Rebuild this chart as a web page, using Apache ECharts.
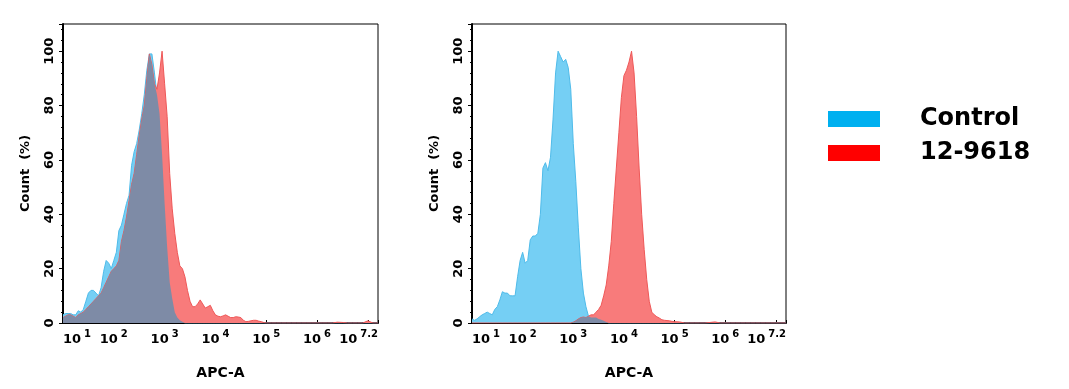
<!DOCTYPE html>
<html>
<head>
<meta charset="utf-8">
<script src="https://cdn.jsdelivr.net/npm/echarts@6/dist/echarts.min.js"></script>
<style>html,body{margin:0;padding:0;background:#fff;}#c{width:1069px;height:389px;}</style>
</head>
<body>
<div id="c"></div>
<script>
// x positions in log10(APC-A)
const xs = [1.00,1.05,1.10,1.15,1.20,1.25,1.30,1.35,1.40,1.45,1.50,1.55,1.60,1.65,1.70,1.75,1.80,1.85,1.90,1.95,
  2.00,2.05,2.10,2.15,2.20,2.25,2.30,2.35,2.40,2.45,2.50,2.55,2.60,2.65,2.70,2.75,2.80,2.85,2.90,2.95,
  3.00,3.05,3.10,3.15,3.20,3.25,3.30,3.35,3.40,3.45,3.50,3.55,3.60,3.65,3.70,3.75,3.80,3.85,3.90,3.95,
  4.00,4.05,4.10,4.15,4.20,4.25,4.30,4.35,4.40,4.45,4.50,4.55,4.60,4.65,4.70,4.75,4.80,4.85,4.90,4.95,5.00,
  5.1,5.2,5.3,5.4,5.5,5.6,5.7,5.8,5.9,6.0,6.1,6.2,6.3,6.4,6.5,6.6,6.7,6.8,6.9,7.0,7.1,7.2];

// Left panel
const controlLeft = [3,3.5,3.5,3.5,3,3,4.5,4,5,8,11,12,12,11,10,13,19,23,22,20,
  23,26,34,36,40,44,47,58,63,66,71,77,84,93,99,99,92,84,77,62,
  44,28,15,9,4,2,1,0.5,0,0,0,0,0,0,0,0,0,0,0,0,
  0,0,0,0,0,0,0,0,0,0,0,0,0,0,0,0,0,0,0,0,0,
  0,0,0,0,0,0,0,0,0,0,0,0,0,0,0,0,0,0,0,0,0,0];
const sampleLeft = [2,2.5,3,3,2.5,2,3,3.5,4,5,6,7,8,9,10,11,13,15,17,19,
  20,21,23,30,34,39,45,51,55,62,69,75,80,90,99,95,88,86,92,100,
  88,76,55,42,33,26,21,20,17,12,8,6,6,7,8.5,7,5.5,6,6.5,4.5,
  3,2.5,2.3,2.6,3,2.5,2,2,2.3,2.2,2,1,0.5,0.6,0.8,1,1,0.7,0.5,0.2,0,
  0,0,0,0,0,0,0,0,0,0,0,0,0,0.3,0.2,0,0,0,0,0.8,0,0];

// Right panel
const controlRight = [1.5,1,1.5,2.3,3,3.5,4,3.5,3,5,6,8.5,11.5,11,11,10,10,10,17,23,
  26,22,23,30.6,32,32,33,40,57,59,56,61,75,92,100,98,96,97,94,86,
  66,52,35,20,11,6,2.5,2,2,2,1.5,1.2,0.8,0.4,0,0,0,0,0,0,
  0,0,0,0,0,0,0,0,0,0,0,0,0,0,0,0,0,0,0,0,0,
  0,0,0,0,0,0,0,0,0,0,0,0,0,0,0,0,0,0,0,0,0,0];
const sampleRight = [0,0,0,0,0,0,0,0,0,0,0,0,0,0,0,0,0,0,0,0,
  0,0,0,0,0,0,0,0,0,0,0,0,0,0,0,0,0,0,0,0,
  0.3,0.8,1.5,2,2.2,2,2.5,3,3,4,5,6.5,10,14,21,30,44,57,70,83,
  91,93,96,100,92,76,57,40,27,16,8,4,3,2.3,1.8,1.2,1,0.9,0.8,0.6,0.5,
  0.4,0,0,0,0,0,0.2,0.4,0,0,0,0,0,0,0,0,0,0,0,0,0,0];

const xTicks = [1,2,3,4,5,6,7.2];
const seriesNames = ['Control','12-9618'];

const FONT = 'DejaVu Sans';
const C_BLUE = '#75cff4', C_BLUE_LINE = '#4fbbe9';
const C_RED = '#f87b7b', C_RED_LINE = '#ee5858';
const C_OVER = '#7e8ba6';

function pairs(arr){ return xs.map((x,i)=>[x, arr[i]]); }
function overlap(a,b){ return a.map((v,i)=>Math.min(v,b[i])); }

const grids = [
  {left:63, top:24, width:315, height:299},
  {left:472, top:24, width:314, height:299}
];

function xAxis(idx){
  return {
    type:'value', gridIndex:idx, min:1, max:7.2, interval:1,
    name:'APC-A', nameLocation:'middle', nameGap:43,
    nameTextStyle:{fontFamily:FONT, fontWeight:'bold', fontSize:14, color:'#000'},
    axisLine:{show:true, lineStyle:{color:'#000', width:2}},
    axisTick:{show:true, inside:true, length:3, lineStyle:{color:'#000'}},
    splitLine:{show:false},
    axisLabel:{
      margin:6, alignMinLabel:'left', alignMaxLabel:'right',
      formatter:function(v){
        if (xTicks.indexOf(Math.round(v*10)/10) < 0) return '';
        return '{b|10}{s|' + (Math.round(v*10)/10) + '}';
      },
      rich:{
        b:{fontFamily:FONT, fontWeight:'bold', fontSize:13, color:'#000', padding:[4,0,0,0]},
        s:{fontFamily:FONT, fontWeight:'bold', fontSize:10, color:'#000', padding:[0,0,8,3]}
      }
    }
  };
}
function yAxis(idx){
  return {
    type:'value', gridIndex:idx, min:0, max:110, interval:20,
    name:'Count  (%)', nameLocation:'middle', nameGap:31, nameRotate:90,
    nameTextStyle:{fontFamily:FONT, fontWeight:'bold', fontSize:13, color:'#000'},
    axisLine:{show:true, lineStyle:{color:'#000', width:2}},
    axisTick:{show:true, length:4, lineStyle:{color:'#000'}},
    minorTick:{show:true, splitNumber:5, length:2, lineStyle:{color:'#000'}},
    splitLine:{show:false},
    axisLabel:{rotate:90, margin:7, showMaxLabel:false,
      fontFamily:FONT, fontWeight:'bold', fontSize:13, color:'#000',
      formatter:function(v){ return v>100 ? '' : String(v); }}
  };
}

function areaSeries(name, data, idx, fill, line, z){
  return {
    type:'line', name:name, xAxisIndex:idx, yAxisIndex:idx, data:pairs(data),
    showSymbol:false, symbol:'none', smooth:false, z:z, silent:true,
    lineStyle:{color:line, width:1},
    itemStyle:{color:line},
    areaStyle:{color:fill, opacity:1}
  };
}

const option = {
  animation:false,
  backgroundColor:'#fff',
  grid: grids.map(g=>Object.assign({show:true, borderColor:'#000', borderWidth:1, backgroundColor:'transparent'}, g)),
  xAxis:[xAxis(0), xAxis(1)],
  yAxis:[yAxis(0), yAxis(1)],
  legend:{
    orient:'vertical', left:823, top:102, itemWidth:52, itemHeight:16, itemGap:10,
    icon:'rect', selectedMode:false,
    textStyle:{fontFamily:FONT, fontWeight:'bold', fontSize:24, color:'#000', padding:[0,0,0,35]},
    data:[
      {name:seriesNames[0], itemStyle:{color:'#00b0f0', borderWidth:0}},
      {name:seriesNames[1], itemStyle:{color:'#ff0000', borderWidth:0}}
    ]
  },
  series:[
    areaSeries(seriesNames[0], controlLeft, 0, C_BLUE, C_BLUE_LINE, 2),
    areaSeries(seriesNames[1], sampleLeft, 0, C_RED, C_RED_LINE, 3),
    Object.assign(areaSeries('overlapL', overlap(controlLeft, sampleLeft), 0, C_OVER, C_OVER, 4), {lineStyle:{width:0}}),
    areaSeries(seriesNames[0], controlRight, 1, C_BLUE, C_BLUE_LINE, 2),
    areaSeries(seriesNames[1], sampleRight, 1, C_RED, C_RED_LINE, 3),
    Object.assign(areaSeries('overlapR', overlap(controlRight, sampleRight), 1, C_OVER, C_OVER, 4), {lineStyle:{width:0}})
  ]
};

const chart = echarts.init(document.getElementById('c'), null, {renderer:'canvas'});
chart.setOption(option);
</script>
</body>
</html>
